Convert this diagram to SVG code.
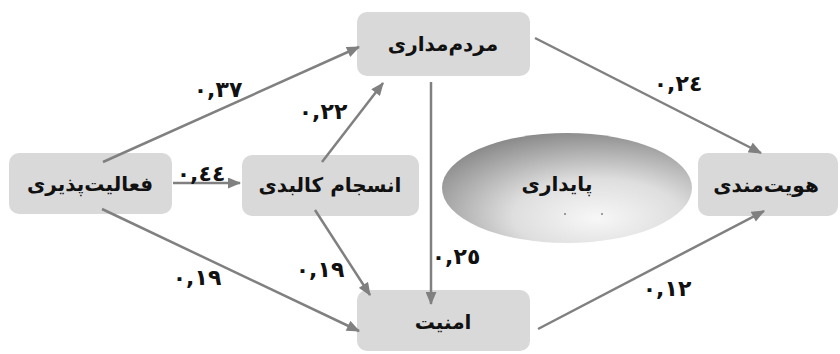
<svg xmlns="http://www.w3.org/2000/svg" width="840" height="354" viewBox="0 0 840 354">
<defs>
<style>
.box{fill:#d9d9d9;}
.lbl{font-family:"DejaVu Sans",sans-serif;font-weight:bold;font-size:20px;fill:#111;text-anchor:middle;}
.num{font-family:"DejaVu Sans",sans-serif;font-weight:bold;font-size:22px;fill:#111;text-anchor:middle;}
.edge{stroke:#808080;stroke-width:2.5;fill:none;marker-end:url(#ah);}
</style>
<marker id="ah" viewBox="0 0 12 10" refX="11" refY="5" markerWidth="14" markerHeight="11" markerUnits="userSpaceOnUse" orient="auto">
<path d="M0,0 L12,5 L0,10 Z" fill="#808080"/>
</marker>
<radialGradient id="eg" cx="0.62" cy="0.72" r="0.75" fx="0.62" fy="0.78">
<stop offset="0" stop-color="#f7f7f7"/>
<stop offset="0.45" stop-color="#dedede"/>
<stop offset="1" stop-color="#8a8a8a"/>
</radialGradient>
</defs>
<g id="sustainability">
<ellipse cx="567" cy="188" rx="125" ry="55" fill="url(#eg)"/>
<text class="lbl" x="557" y="191">پایداری</text>
<circle cx="565" cy="214" r="0.8" fill="#333"/>
<circle cx="602" cy="214" r="0.8" fill="#333"/>
</g>
<g id="n-activity">
<rect class="box" x="9" y="153" width="163" height="61" rx="10"/>
<text class="lbl" x="90" y="191">فعالیت‌پذیری</text>
</g>
<g id="n-cohesion">
<rect class="box" x="242" y="155" width="177" height="61" rx="10"/>
<text class="lbl" x="330" y="192">انسجام کالبدی</text>
</g>
<g id="n-people">
<rect class="box" x="357" y="12" width="173" height="64" rx="10"/>
<text class="lbl" x="443" y="51">مردم‌مداری</text>
</g>
<g id="n-security">
<rect class="box" x="357" y="290" width="173" height="61" rx="10"/>
<text class="lbl" x="443" y="329">امنیت</text>
</g>
<g id="n-identity">
<rect class="box" x="698" y="153" width="140" height="63" rx="10"/>
<text class="lbl" x="766" y="192">هویت‌مندی</text>
</g>
<g id="connectors">
<line class="edge" x1="103" y1="162" x2="359" y2="47"/>
<line class="edge" x1="322" y1="162" x2="383" y2="83"/>
<line class="edge" x1="173" y1="183" x2="240" y2="183"/>
<line class="edge" x1="102" y1="209" x2="359" y2="331"/>
<line class="edge" x1="315" y1="210" x2="370" y2="295"/>
<line class="edge" x1="431" y1="82" x2="431" y2="304"/>
<line class="edge" x1="535" y1="38" x2="761" y2="153"/>
<line class="edge" x1="538" y1="329" x2="764" y2="211"/>
<text class="num" x="218" y="97">٠,٣٧</text>
<text class="num" x="323" y="119">٠,٢٢</text>
<text class="num" x="201" y="181">٠,٤٤</text>
<text class="num" x="197" y="285">٠,١٩</text>
<text class="num" x="320" y="277">٠,١٩</text>
<text class="num" x="456" y="264">٠,٢٥</text>
<text class="num" x="678" y="91">٠,٢٤</text>
<text class="num" x="667" y="296">٠,١٢</text>
</g>
</svg>
